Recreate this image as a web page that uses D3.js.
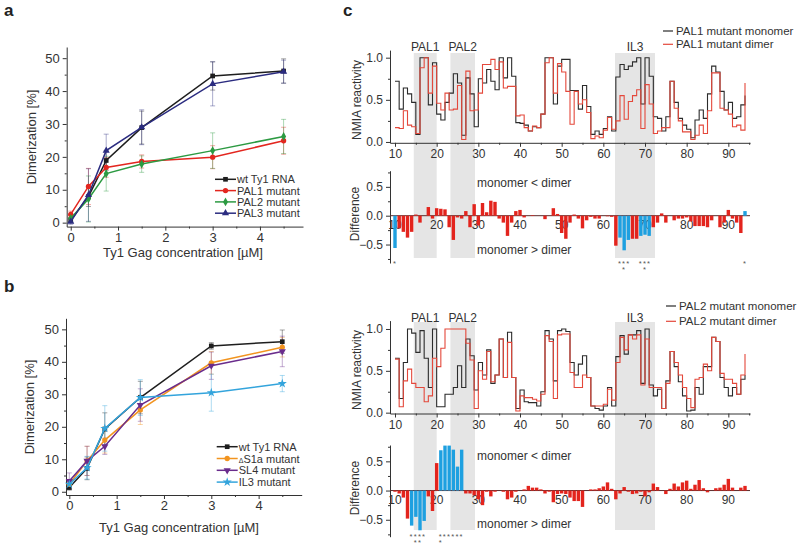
<!DOCTYPE html>
<html>
<head>
<meta charset="utf-8">
<script src="https://cdn.jsdelivr.net/npm/d3@7"></script>
<style>
  body { margin: 0; background: #fff; }
  text { font-family: "Liberation Sans", Arial, sans-serif; fill: #333; }
</style>
</head>
<body>
<svg id="fig" width="800" height="548"></svg>
<script>
// ---- datos paneles a y b (dimerizacion) ----
var conc = [0, 0.375, 0.75, 1.5, 3, 4.5];

var namesA = ["wt Ty1 RNA", "PAL1 mutant", "PAL2 mutant", "PAL3 mutant"];
var wtA   = [0.8, 7.9, 18.9, 28.9, 44.6, 46.1];
var pal1A = [2.5, 11.0, 16.8, 18.6, 19.9, 24.9];
var pal2A = [1.3, 7.2, 14.9, 17.8, 21.9, 26.2];
var pal3A = [0.3, 8.4, 21.9, 29.0, 42.2, 45.9];
var errWtA   = [0.8, 3.0, 3.0, 5.0, 4.3, 3.7];
var errPal1A = [1.0, 5.5, 3.0, 2.0, 3.5, 4.1];
var errPal2A = [1.0, 7.0, 5.3, 2.5, 5.4, 5.2];
var errPal3A = [0.8, 8.0, 5.0, 5.3, 6.7, 3.5];

var namesB = ["wt Ty1 RNA", "S1a mutant", "SL4 mutant", "IL3 mutant"];
var wtB  = [1.3, 7.2, 19.3, 29.0, 44.9, 46.2];
var s1aB = [2.3, 9.5, 15.9, 25.2, 39.7, 44.5];
var sl4B = [3.3, 9.5, 14.0, 26.7, 38.8, 43.2];
var il3B = [2.3, 7.4, 19.5, 29.0, 30.5, 33.3];
var errWtB  = [0.8, 3.5, 5.0, 5.0, 1.0, 3.6];
var errS1aB = [1.5, 4.5, 4.0, 4.5, 3.5, 3.0];
var errSl4B = [2.5, 4.5, 2.5, 5.0, 4.2, 4.7];
var errIl3B = [1.5, 3.5, 7.0, 5.5, 5.7, 2.5];

var ticksX = [0, 1, 2, 3, 4];
var ticksY = [0, 10, 20, 30, 40, 50];

// ---- datos panel c (reactividad NMIA, nt 10-94) ----
var nts = d3.range(10, 95);
var regions = [
  {name: "PAL1", from: 14.5, to: 20.0},
  {name: "PAL2", from: 23.3, to: 29.2},
  {name: "IL3",  from: 62.8, to: 72.4}
];

var pal1Monomer = [.72,.39,.64,.57,.47,.09,1.0,1.0,.44,.94,
  .33,.26,.47,.58,.81,.70,.08,.76,.57,.18,
  .75,.70,.86,.72,.62,1.0,.76,1.0,.78,.23,
  .22,.20,.13,.18,.17,.33,1.0,1.0,.45,.90,
  .98,.98,.61,.61,.39,.67,.42,.09,.13,.09,
  .16,.30,.13,.77,.92,.86,.90,.95,1.0,.45,
  1.0,.78,.30,.28,.13,.30,.72,.47,.28,.20,
  .15,.05,.26,.38,.28,.57,.90,.83,.60,.38,
  .47,.28,.30,.44,.55];
var pal1Dimer = [.17,.16,.37,.20,.18,.10,.88,1.0,.58,.90,
  .46,.38,.58,.38,.39,.67,.03,.84,.37,.38,
  .58,.92,.92,.98,.86,.95,.64,.66,.66,.31,
  .32,.17,.13,.19,.17,.33,.94,1.0,.58,.93,
  .83,.60,.21,.60,.45,.50,.35,.04,.07,.05,
  .14,.29,.15,.25,.55,.27,.48,.55,.62,.16,
  .68,.45,.10,.13,.17,.17,.72,.40,.25,.12,
  .12,.03,.08,.20,.10,.37,.82,.82,.40,.38,
  .33,.18,.20,.14,.70];
var pal1Diff = [-.56,-.22,-.28,-.38,-.28,.02,-.12,0,.15,-.05,
  .13,.12,.11,-.20,-.42,-.03,-.05,.08,-.20,.20,
  -.17,.22,.06,.26,.24,-.05,-.12,-.35,-.12,.08,
  .10,-.03,0,.01,0,0,-.06,0,.13,.03,
  -.30,-.40,-.12,.02,-.05,-.22,-.08,-.02,-.05,-.05,
  0,-.01,-.02,-.52,-.38,-.60,-.42,-.40,-.40,-.35,
  -.33,-.35,-.20,-.12,.04,-.12,0,-.08,-.05,-.05,
  -.03,-.10,-.18,-.18,-.18,-.20,-.08,0,-.20,-.12,
  .10,-.05,-.12,-.30,.08];
var pal1Signif = [10, 64, 65, 66, 69, 70, 71, 94];
var pal1Stars = [[10,1],[64,1],[65,2],[66,1],[69,1],[70,2],[71,1],[94,1]];

var pal2Monomer = [.65,.17,.60,1.0,.95,.72,.98,.65,.30,1.0,
  .07,.07,.22,.22,.30,.56,.30,.88,.68,.27,
  .60,.45,.75,.35,.45,.88,.42,.96,.42,.05,
  .27,.13,.12,.12,.08,.25,.98,.88,.38,.98,
  1.0,.97,.60,.45,.58,.68,.42,.08,.05,.03,
  .08,.30,.08,.67,.92,.70,.93,.93,.98,.35,
  1.0,.33,.20,.28,.05,.38,.73,.55,.37,.20,
  .02,.03,.30,.22,.55,.55,.90,.85,.42,.30,
  .20,.30,.22,.40,.45];
var pal2Dimer = [.64,.07,.38,.52,.35,.30,.30,.13,.20,.65,
  .55,.77,1.0,1.0,1.0,1.0,1.0,.83,.63,.05,
  .50,.40,.73,.37,.45,.88,.42,.84,.42,.02,
  .20,.18,.18,.16,.14,.22,.92,.85,.17,.93,
  .94,.94,.48,.30,.30,.45,.42,.08,.08,.08,
  .10,.28,.15,.60,.90,.75,.93,.88,.93,.33,
  .88,.30,.30,.30,.05,.35,.73,.60,.45,.30,
  .17,.06,.40,.42,.58,.50,.90,.85,.47,.40,
  .40,.35,.22,.45,.70];
var pal2Diff = [-.02,-.05,-.12,-.48,-.60,-.45,-.68,-.52,-.10,-.35,
  .47,.69,.77,.77,.70,.41,.70,-.05,-.05,-.08,
  -.15,-.25,-.02,-.10,-.02,0,-.02,-.15,-.12,-.02,
  0,.02,.08,.05,.05,.02,-.05,-.02,-.20,-.06,
  -.05,-.06,-.12,-.18,-.18,-.28,0,.02,.02,.04,
  .07,.14,.03,-.15,-.05,.06,-.02,-.06,-.05,-.02,
  -.10,-.03,.12,.06,0,-.06,.03,.12,.07,.14,
  .17,.03,.10,.18,.04,-.03,0,.04,.05,.10,
  .20,.05,0,.05,.08];
var pal2Signif = [14, 15, 16, 17, 21, 22, 23, 24, 25, 26];
var pal2Stars = [[14,1],[15,2],[16,2],[17,1],[21,2],[22,1],[23,1],[24,1],[25,1],[26,1]];

var ntTicks = [10, 20, 30, 40, 50, 60, 70, 80, 90];

var svg = d3.select("#fig");
var FONT = "Liberation Sans, Arial, sans-serif";

function estiloEje(g, size) {
  g.attr("font-family", FONT).attr("font-size", size).style("color", "#333");
  g.selectAll("path, line").attr("stroke", "#333");
}

// letras de panel
[["a", 4, 16], ["b", 4, 292], ["c", 343, 16]].forEach(function(l) {
  svg.append("text").attr("x", l[1]).attr("y", l[2])
     .attr("font-size", 17).attr("font-weight", "bold").style("fill", "#222").text(l[0]);
});

// ---- paneles de dimerizacion ----
function panelDimer(o) {
  var x = d3.scaleLinear().domain(o.xDomain).range([o.left, o.right]);
  var y = d3.scaleLinear().domain(o.yDomain).range([o.bottom, o.top]);
  var g = svg.append("g");

  var ax = g.append("g").attr("transform", "translate(0," + o.bottom + ")")
    .call(d3.axisBottom(x).tickValues(ticksX).tickFormat(d3.format("d")).tickSize(4).tickPadding(2).tickSizeOuter(0));
  estiloEje(ax, 13);
  var axm = g.append("g").attr("transform", "translate(0," + o.bottom + ")")
    .call(d3.axisBottom(x).tickValues([0.5, 1.5, 2.5, 3.5, 4.5]).tickFormat("").tickSize(2));
  axm.select(".domain").remove(); estiloEje(axm, 13);

  var ay = g.append("g").attr("transform", "translate(" + o.left + ",0)")
    .call(d3.axisLeft(y).tickValues(ticksY).tickSize(4).tickSizeOuter(0));
  estiloEje(ay, 13);
  var aym = g.append("g").attr("transform", "translate(" + o.left + ",0)")
    .call(d3.axisLeft(y).tickValues([5, 15, 25, 35, 45]).tickFormat("").tickSize(2));
  aym.select(".domain").remove(); estiloEje(aym, 13);

  g.append("text").attr("transform", "translate(" + o.ylabX + "," + o.ylabY + ") rotate(-90)")
   .attr("text-anchor", "middle").attr("font-size", 13).text("Dimerization [%]");
  g.append("text").attr("x", o.xlabX).attr("y", o.xlabY)
   .attr("text-anchor", "middle").attr("font-size", 13).text("Ty1 Gag concentration [\u00B5M]");

  var line = d3.line().x(function(d) { return x(d.c); }).y(function(d) { return y(d.v); });

  // barras de error
  o.series.forEach(function(s) {
    var pts = conc.map(function(c, i) { return {c: c, v: s.values[i], e: s.errors[i]}; });
    var eb = g.append("g").attr("stroke", s.color).attr("stroke-opacity", 0.4).attr("stroke-width", 1);
    eb.selectAll("line.v").data(pts).enter().append("line")
      .attr("x1", function(d) { return x(d.c); }).attr("x2", function(d) { return x(d.c); })
      .attr("y1", function(d) { return y(d.v - d.e); }).attr("y2", function(d) { return y(d.v + d.e); });
    eb.selectAll("line.t").data(pts).enter().append("line")
      .attr("x1", function(d) { return x(d.c) - 2.5; }).attr("x2", function(d) { return x(d.c) + 2.5; })
      .attr("y1", function(d) { return y(d.v + d.e); }).attr("y2", function(d) { return y(d.v + d.e); });
    eb.selectAll("line.b").data(pts).enter().append("line")
      .attr("x1", function(d) { return x(d.c) - 2.5; }).attr("x2", function(d) { return x(d.c) + 2.5; })
      .attr("y1", function(d) { return y(d.v - d.e); }).attr("y2", function(d) { return y(d.v - d.e); });
  });

  // lineas y marcadores
  o.series.forEach(function(s) {
    var pts = conc.map(function(c, i) { return {c: c, v: s.values[i]}; });
    g.append("path").datum(pts).attr("fill", "none").attr("stroke", s.color)
     .attr("stroke-width", 1.5).attr("d", line);
    g.selectAll(null).data(pts).enter().append("path")
     .attr("transform", function(d) { return "translate(" + x(d.c) + "," + y(d.v) + ")" + (s.rot ? " rotate(180)" : ""); })
     .attr("d", d3.symbol().type(s.symbol).size(s.size || 22)).attr("fill", s.color);
  });

  // leyenda
  o.series.forEach(function(s, i) {
    var yy = o.legY + i * o.legStep;
    g.append("line").attr("x1", o.legX).attr("x2", o.legX + 21).attr("y1", yy).attr("y2", yy)
     .attr("stroke", s.color).attr("stroke-width", 1.5);
    g.append("path").attr("transform", "translate(" + (o.legX + 10.5) + "," + yy + ")" + (s.rot ? " rotate(180)" : ""))
     .attr("d", d3.symbol().type(s.symbol).size(s.size || 22)).attr("fill", s.color);
    var t = g.append("text").attr("x", o.legX + 22).attr("y", yy + 4).attr("font-size", 11);
    if (s.delta) t.append("tspan").attr("font-size", 7).text("\u0394");
    t.append("tspan").text(s.name);
  });
}

panelDimer({
  xDomain: [-0.085, 4.91], yDomain: [-1.2, 53.4],
  left: 66.7, right: 303, top: 47, bottom: 226.6,
  ylabX: 36, ylabY: 137, xlabX: 183, xlabY: 256.5,
  legX: 215, legY: 179.3, legStep: 11.3,
  series: [
    {name: namesA[0], values: wtA,   errors: errWtA,   color: "#1e1e1e", symbol: d3.symbolSquare},
    {name: namesA[1], values: pal1A, errors: errPal1A, color: "#e3261f", symbol: d3.symbolCircle},
    {name: namesA[2], values: pal2A, errors: errPal2A, color: "#2c9a42", symbol: d3.symbolDiamond},
    {name: namesA[3], values: pal3A, errors: errPal3A, color: "#2b2c80", symbol: d3.symbolTriangle}
  ]
});

panelDimer({
  xDomain: [-0.07, 4.91], yDomain: [-1.0, 53.4],
  left: 66, right: 301.7, top: 318.3, bottom: 495,
  ylabX: 34, ylabY: 407, xlabX: 179, xlabY: 531.5,
  legX: 216.7, legY: 446.7, legStep: 11.8,
  series: [
    {name: namesB[0], values: wtB,  errors: errWtB,  color: "#1e1e1e", symbol: d3.symbolSquare},
    {name: namesB[1], values: s1aB, errors: errS1aB, color: "#f2941f", symbol: d3.symbolCircle, delta: true},
    {name: namesB[2], values: sl4B, errors: errSl4B, color: "#6a2c8c", symbol: d3.symbolTriangle, rot: true},
    {name: namesB[3], values: il3B, errors: errIl3B, color: "#33a4dc", symbol: d3.symbolStar, size: 26}
  ]
});

// ---- panel c ----
var xc = d3.scaleLinear().domain([8.8, 95.2]).range([390, 750]);
var paso = xc(11) - xc(10);

function zonasGrises(top, bottom, labY) {
  regions.forEach(function(r) {
    svg.append("rect").attr("x", xc(r.from)).attr("y", top)
       .attr("width", xc(r.to) - xc(r.from)).attr("height", bottom - top).attr("fill", "#e5e5e5");
    svg.append("text").attr("x", (xc(r.from) + xc(r.to)) / 2).attr("y", labY)
       .attr("text-anchor", "middle").attr("font-size", 12).text(r.name);
  });
}

function panelPasos(o) {
  var y = d3.scaleLinear().domain([-0.01, o.ymax]).range([o.bottom, o.top]);
  var g = svg.append("g");
  var ax = g.append("g").attr("transform", "translate(0," + o.bottom + ")")
    .call(d3.axisBottom(xc).tickValues(ntTicks).tickSize(4).tickSizeOuter(0));
  estiloEje(ax, 12);
  var axm = g.append("g").attr("transform", "translate(0," + o.bottom + ")")
    .call(d3.axisBottom(xc).tickValues([15, 25, 35, 45, 55, 65, 75, 85, 95]).tickFormat("").tickSize(2));
  axm.select(".domain").remove(); estiloEje(axm, 12);
  var ay = g.append("g").attr("transform", "translate(390,0)")
    .call(d3.axisLeft(y).tickValues([0, 0.5, 1]).tickFormat(d3.format(".1f")).tickSize(4).tickSizeOuter(0));
  estiloEje(ay, 12);
  var aym = g.append("g").attr("transform", "translate(390,0)")
    .call(d3.axisLeft(y).tickValues([0.25, 0.75]).tickFormat("").tickSize(2));
  aym.select(".domain").remove(); estiloEje(aym, 12);

  g.append("text").attr("transform", "translate(361," + o.labY + ") rotate(-90)")
   .attr("text-anchor", "middle").attr("font-size", 12).text("NMIA reactivity");

  var step = d3.line().curve(d3.curveStepAfter)
    .x(function(d) { return xc(d.n); }).y(function(d) { return y(d.v); });
  g.append("path").datum(nts.map(function(n, i) { return {n: n, v: o.monomer[i]}; }))
   .attr("fill", "none").attr("stroke", "#2b2b2b").attr("stroke-width", 1.1).attr("d", step);
  g.append("path").datum(nts.map(function(n, i) { return {n: n, v: o.dimer[i]}; }))
   .attr("fill", "none").attr("stroke", "#e4483b").attr("stroke-width", 1.1).attr("d", step);

  // leyenda
  [[o.name + " mutant monomer", "#2b2b2b"], [o.name + " mutant dimer", "#e4483b"]].forEach(function(l, i) {
    var yy = o.legY + i * o.legStep;
    g.append("line").attr("x1", o.legX).attr("x2", o.legX + 10).attr("y1", yy).attr("y2", yy)
     .attr("stroke", l[1]).attr("stroke-width", 1.2);
    g.append("text").attr("x", o.legX + 13).attr("y", yy + 4).attr("font-size", 11.5).text(l[0]);
  });
}

function panelDiferencia(o) {
  var y = d3.scaleLinear().domain(o.yDomain).range([o.bottom, o.top]);
  var g = svg.append("g");
  var ay = g.append("g").attr("transform", "translate(390,0)")
    .call(d3.axisLeft(y).tickValues([-0.5, 0, 0.5]).tickFormat(d3.format(".1f")).tickSize(4).tickSizeOuter(0));
  estiloEje(ay, 12);
  var aym = g.append("g").attr("transform", "translate(390,0)")
    .call(d3.axisLeft(y).tickValues([-0.75, -0.25, 0.25, 0.75]).tickFormat("").tickSize(2));
  aym.select(".domain").remove(); estiloEje(aym, 12);

  g.append("text").attr("transform", "translate(359," + o.labY + ") rotate(-90)")
   .attr("text-anchor", "middle").attr("font-size", 12).text("Difference");

  g.selectAll(null).data(ntTicks).enter().append("text")
   .attr("x", function(d) { return xc(d); }).attr("y", y(0) + 13)
   .attr("text-anchor", "middle").attr("font-size", 12).text(function(d) { return d; });

  g.append("line").attr("x1", 390).attr("x2", 750).attr("y1", y(0)).attr("y2", y(0))
   .attr("stroke", "#5a2a2a").attr("stroke-width", 1);

  var bw = paso * 0.82;
  g.selectAll(null).data(nts.map(function(n, i) { return {n: n, v: o.diff[i]}; })).enter().append("rect")
   .attr("x", function(d) { return xc(d.n) - bw / 2; })
   .attr("y", function(d) { return Math.min(y(d.v), y(0)); })
   .attr("width", bw)
   .attr("height", function(d) { return Math.abs(y(d.v) - y(0)); })
   .attr("fill", function(d) { return o.signif.indexOf(d.n) >= 0 ? "#1ea0e0" : "#e3241d"; });

  g.append("text").attr("x", 477).attr("y", o.txtUp).attr("font-size", 12).text("monomer < dimer");
  g.append("text").attr("x", 477).attr("y", o.txtDown).attr("font-size", 12).text("monomer > dimer");

  // asteriscos de significancia: una fila por nivel, tramos contiguos en un solo texto
  var maxNivel = d3.max(o.stars, function(s) { return s[1]; });
  for (var k = 0; k < maxNivel; k++) {
    var fila = o.stars.filter(function(s) { return s[1] > k; }).map(function(s) { return s[0]; });
    var tramos = [];
    fila.forEach(function(n) {
      var ult = tramos[tramos.length - 1];
      if (ult && n === ult[1] + 1) ult[1] = n; else tramos.push([n, n]);
    });
    tramos.forEach(function(t) {
      var len = t[1] - t[0] + 1;
      g.append("text").attr("x", xc((t[0] + t[1]) / 2)).attr("y", o.starY + k * 6)
       .attr("text-anchor", "middle").attr("font-size", 7.5).attr("letter-spacing", paso - 2.9)
       .style("fill", "#555").text(d3.range(len).map(function() { return "*"; }).join(""));
    });
  }
}

zonasGrises(53, 258, 51);
panelPasos({name: "PAL1", monomer: pal1Monomer, dimer: pal1Dimer, top: 50.1, bottom: 142.8, ymax: 1.09,
            labY: 100, legX: 663, legY: 31, legStep: 13.3});
panelDiferencia({diff: pal1Diff, signif: pal1Signif, stars: pal1Stars, yDomain: [-0.82, 0.78],
                 top: 170.7, bottom: 263, labY: 214, txtUp: 187, txtDown: 254, starY: 266});

zonasGrises(322, 530, 322);
panelPasos({name: "PAL2", monomer: pal2Monomer, dimer: pal2Dimer, top: 320.6, bottom: 413.5, ymax: 1.1,
            labY: 370, legX: 666, legY: 306, legStep: 15.3});
panelDiferencia({diff: pal2Diff, signif: pal2Signif, stars: pal2Stars, yDomain: [-0.79, 0.78],
                 top: 445, bottom: 536.7, labY: 488, txtUp: 460, txtDown: 528, starY: 539});
</script>
</body>
</html>
